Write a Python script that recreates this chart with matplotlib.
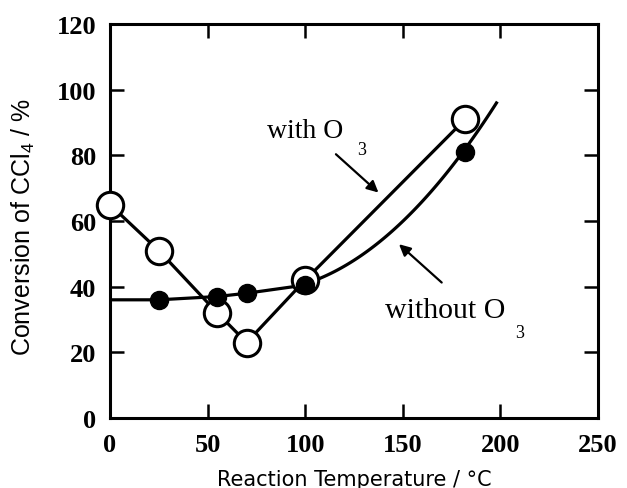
import numpy as np
import matplotlib
matplotlib.use("Agg")
import matplotlib.pyplot as plt

# with O3 (open circles)
with_x = [0, 25, 55, 70, 100, 182]
with_y = [65, 51, 32, 23, 42, 91]

# without O3 (filled circles)
without_x = [25, 55, 70, 100, 182]
without_y = [36, 37, 38, 40.5, 81]

# without O3 line: flat start and smooth high-temperature curve
without_line_x = [0, 25, 55, 70, 100]
without_line_y = [36, 36, 37, 38, 40.5]
curve_x = [100, 120, 142, 159, 182, 198]
curve_y = [40.5, 47, 55, 66, 81, 96.5]

xticks = [0, 50, 100, 150, 200, 250]
yticks = [0, 20, 40, 60, 80, 100, 120]

plt.rcParams['mathtext.fontset'] = 'custom'
plt.rcParams['mathtext.rm'] = 'Liberation Sans'

fig = plt.figure(figsize=(6.27, 4.89), dpi=100)
ax = fig.add_axes([0.1754, 0.1431, 0.7783, 0.8058])

# curves
ax.plot(with_x, with_y, color='black', lw=2.3, zorder=2)
ax.plot(without_line_x, without_line_y, color='black', lw=2.3, zorder=2)
coef = np.polyfit(curve_x, curve_y, 2)
cx = np.linspace(curve_x[0], curve_x[-1], 100)
ax.plot(cx, np.polyval(coef, cx), color='black', lw=2.3, zorder=2)

ax.plot(with_x, with_y, 'o', ms=19, mfc='white', mec='black', mew=2.2, zorder=3, clip_on=False)
ax.plot(without_x, without_y, 'o', ms=13, mfc='black', mec='black', zorder=4, clip_on=False)

ax.set_xlim(0, 250)
ax.set_ylim(0, 120)
ax.set_xticks(xticks)
ax.set_yticks(yticks)
ax.tick_params(direction='in', length=10, width=1.8, top=True, right=True)
ax.tick_params(axis='x', pad=11)
ax.tick_params(axis='y', pad=10)
for lab in ax.get_xticklabels() + ax.get_yticklabels():
    lab.set_fontfamily('Liberation Serif')
    lab.set_fontweight('bold')
    lab.set_fontsize(19)
for s in ax.spines.values():
    s.set_linewidth(2.2)

ax.set_xlabel('Reaction Temperature / °C', fontfamily='DejaVu Sans', fontsize=15, labelpad=9)
ax.set_ylabel(r'Conversion of CCl$_\mathregular{4}$ / %', fontfamily='Liberation Sans', fontsize=18, labelpad=12)
ax.yaxis.set_label_coords(-0.149, 0.487)

ax.text(80.5, 85.6, 'with O', fontfamily='Liberation Serif', fontsize=20)
ax.text(126.5, 80.4, '3', fontfamily='Liberation Serif', fontsize=13)
ax.annotate('', xy=(138.6, 68.1), xytext=(114.7, 80.9),
            arrowprops=dict(arrowstyle='-|>', color='black', lw=1.6, mutation_scale=17))
ax.text(141, 30.8, 'without O', fontfamily='Liberation Serif', fontsize=21.5)
ax.text(207.5, 24.7, '3', fontfamily='Liberation Serif', fontsize=13)
ax.annotate('', xy=(147, 53.5), xytext=(171, 40.7),
            arrowprops=dict(arrowstyle='-|>', color='black', lw=1.6, mutation_scale=17))

fig.savefig('out.png', dpi=100)
